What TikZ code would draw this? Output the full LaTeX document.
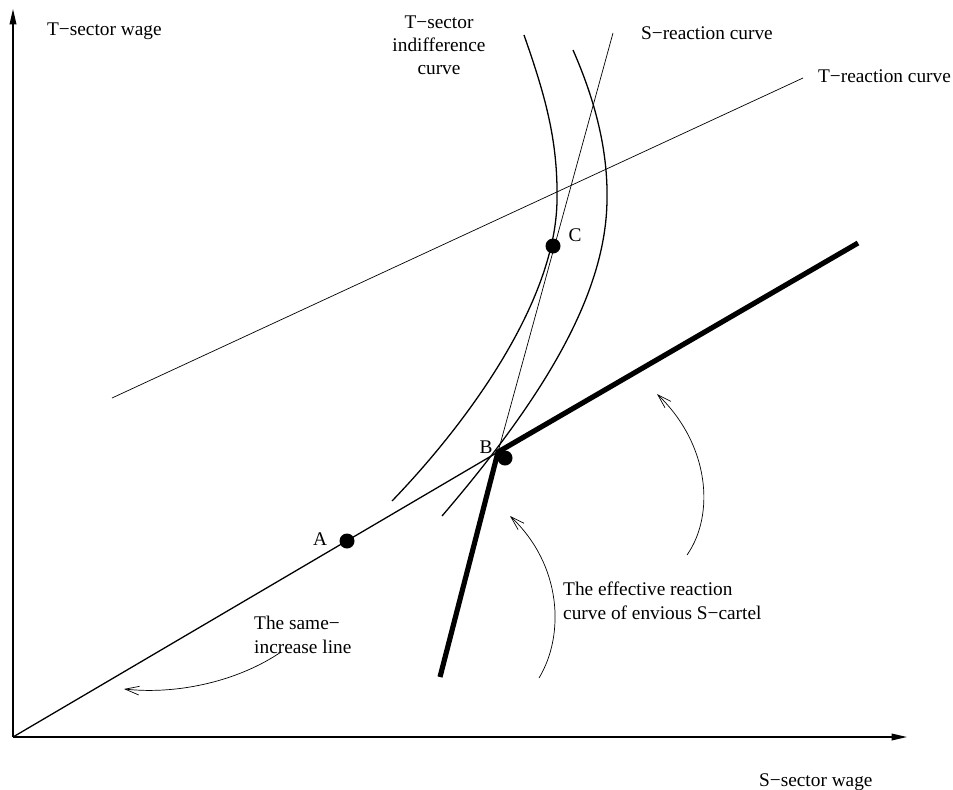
\documentclass[tikz,border=0pt]{standalone}
\usepackage{fontspec}
\setmainfont{Liberation Serif}
\usetikzlibrary{arrows.meta}

\begin{document}
\begin{tikzpicture}[x=0.3mm,y=-0.3mm,>={Triangle[length=4.6mm,width=2mm]},
  every node/.style={font=\fontsize{16.5}{20.4}\selectfont},
  thin line/.style={line width=0.6pt},
  curve line/.style={line width=1.1pt},
  heavy line/.style={line width=4.4pt},
  pointer/.style={line width=0.6pt,-{Straight Barb[length=4.2mm,width=2.6mm]}},
  dot/.style={circle,fill,inner sep=0pt,minimum size=4.5mm}]
\useasboundingbox (0,0) rectangle (953,789);
\coordinate (O) at (13,737);
\coordinate (ytop) at (13,9);
\coordinate (xend) at (907,737);
\coordinate (B) at (498,452);
\coordinate (kinkR) at (858,243);
\coordinate (kinkD) at (440,677);
\coordinate (Stop) at (613,33);
\coordinate (Tleft) at (112,398);
\coordinate (Tright) at (803,78);
\draw[curve line,->] (O) -- (ytop);
\draw[curve line,->] (O) -- (xend);
\draw[thin line] (Tleft) -- (Tright);
\draw[thin line] (Stop) -- (B);
\draw[curve line] (524,35) .. controls (545,95) and (558,140) .. (557,200)
  .. controls (556,300) and (470,420) .. (392,501);
\draw[curve line] (573,50) .. controls (595,100) and (608,150) .. (607,200)
  .. controls (606,290) and (550,390) .. (442,516);
\draw[curve line] (O) -- (B);
\draw[heavy line] (kinkR) -- (B) -- (kinkD);
\node[dot] (dotA) at (347,541) {};
\node[dot] (dotB) at (505,458) {};
\node[dot] (dotC) at (553,246) {};
\node[anchor=base] (labA) at (320,545) {A};
\node[anchor=base] (labB) at (486,453) {B};
\node[anchor=base] (labC) at (575,241) {C};
\node[anchor=base west] (ylab) at (43,35) {T−sector wage};
\node[anchor=base west] (xlab) at (755,786) {S−sector wage};
\node[anchor=base west] (slab) at (637,39) {S−reaction curve};
\node[anchor=base west] (tlab) at (814,82) {T−reaction curve};
\node[anchor=base,align=center,font=\fontsize{16.5}{19.5}\selectfont] (iclab) at (439,74) {T−sector\\indifference\\curve};
\node[anchor=base west,align=left,inner xsep=0pt] (efflab) at (563,619) {The effective reaction\\curve of envious S−cartel};
\node[anchor=base west,align=left,inner xsep=0pt] (samelab) at (254,653) {The same−\\increase line};
\coordinate (s1) at (281,652);
\coordinate (t1) at (124,689);
\coordinate (s2) at (539,678);
\coordinate (t2) at (510,516);
\coordinate (s3) at (687,555);
\coordinate (t3) at (657,394);
\draw[pointer] (s1) .. controls (240,680) and (180,695) .. (t1);
\draw[pointer] (s2) .. controls (565,635) and (562,565) .. (t2);
\draw[pointer] (s3) .. controls (715,515) and (710,445) .. (t3);
\end{tikzpicture}
\end{document}
